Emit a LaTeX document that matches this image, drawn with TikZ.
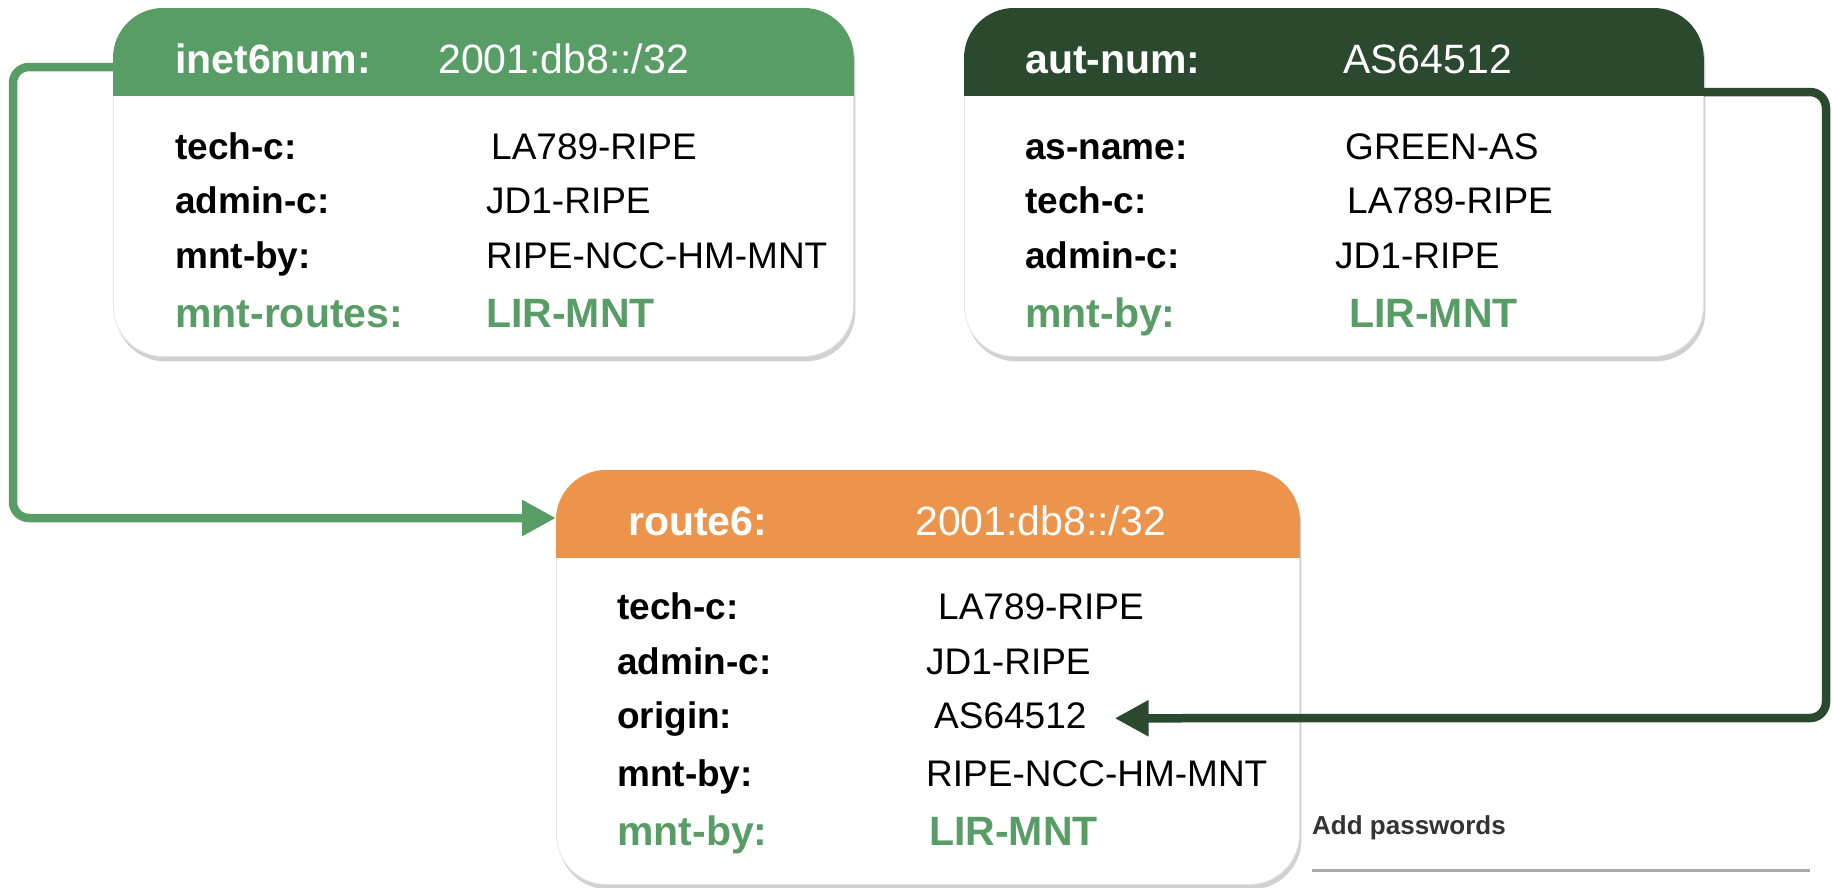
\documentclass[tikz,border=0pt]{standalone}
\usepackage{fontspec}
\setmainfont{Liberation Sans}
\usetikzlibrary{calc,shadows,arrows.meta}
\definecolor{hgreen}{RGB}{88,157,102}
\definecolor{hdark}{RGB}{43,73,46}
\definecolor{horange}{RGB}{236,148,76}
\definecolor{txtgray}{RGB}{51,51,51}
\definecolor{rulegray}{RGB}{170,170,170}
\tikzset{
  objbox/.style={draw=black!10, line width=0.8pt, fill=white, rounded corners=50pt, anchor=north west,
    drop shadow={opacity=0.3, shadow xshift=2pt, shadow yshift=-5pt, fill=black!60}},
  hdrlbl/.style={anchor=base west, inner sep=0pt, text=white, font=\fontsize{41}{45}\selectfont\bfseries},
  hdrval/.style={anchor=base west, inner sep=0pt, text=white, font=\fontsize{41}{45}\selectfont},
  lbl/.style={anchor=base west, inner sep=0pt, font=\fontsize{37}{41}\selectfont\bfseries},
  val/.style={anchor=base west, inner sep=0pt, font=\fontsize{37}{41}\selectfont},
  glbl/.style={anchor=base west, inner sep=0pt, text=hgreen, font=\fontsize{41}{45}\selectfont\bfseries},
  gval/.style={anchor=base west, inner sep=0pt, text=hgreen, font=\fontsize{41}{45}\selectfont\bfseries},
  conn/.style={line width=8.5pt, rounded corners=16pt, -{Triangle[length=34pt,width=34pt]}},
}
\begin{document}
\begin{tikzpicture}[x=1pt,y=-1pt]
\useasboundingbox (0,0) rectangle (1832,887);
% boxes
\node[objbox, minimum width=740pt, minimum height=348pt] (b1) at (113,8) {};
\node[objbox, minimum width=739pt, minimum height=348pt] (b2) at (964,8) {};
\node[objbox, minimum width=743pt, minimum height=414pt] (b3) at (556,470) {};
% headers
\begin{scope}
  \clip[rounded corners=50pt] (b1.north west) rectangle (b1.south east);
  \fill[hgreen] (b1.north west) rectangle ($(b1.north east)+(0,88)$);
\end{scope}
\begin{scope}
  \clip[rounded corners=50pt] (b2.north west) rectangle (b2.south east);
  \fill[hdark] (b2.north west) rectangle ($(b2.north east)+(0,88)$);
\end{scope}
\begin{scope}
  \clip[rounded corners=50pt] (b3.north west) rectangle (b3.south east);
  \fill[horange] (b3.north west) rectangle ($(b3.north east)+(0,88)$);
\end{scope}
% box 1 text
\node[hdrlbl] (h1l) at (175,73) {inet6num:};
\node[hdrval] (h1v) at (438,73) {2001:db8::/32};
\node[lbl] (r1a) at (175,159) {tech-c:};
\node[val] (r1av) at (491,159) {LA789-RIPE};
\node[lbl] (r1b) at (175,213) {admin-c:};
\node[val] (r1bv) at (486,213) {JD1-RIPE};
\node[lbl] (r1c) at (175,268) {mnt-by:};
\node[val] (r1cv) at (486,268) {RIPE-NCC-HM-MNT};
\node[glbl] (r1d) at (175,327) {mnt-routes:};
\node[gval] (r1dv) at (486,327) {LIR-MNT};
% box 2 text
\node[hdrlbl] (h2l) at (1025,73) {aut-num:};
\node[hdrval] (h2v) at (1343,73) {AS64512};
\node[lbl] (r2a) at (1025,159) {as-name:};
\node[val] (r2av) at (1345,159) {GREEN-AS};
\node[lbl] (r2b) at (1025,213) {tech-c:};
\node[val] (r2bv) at (1347,213) {LA789-RIPE};
\node[lbl] (r2c) at (1025,268) {admin-c:};
\node[val] (r2cv) at (1335,268) {JD1-RIPE};
\node[glbl] (r2d) at (1025,327) {mnt-by:};
\node[gval] (r2dv) at (1349,327) {LIR-MNT};
% box 3 text
\node[hdrlbl] (h3l) at (628,535) {route6:};
\node[hdrval] (h3v) at (915,535) {2001:db8::/32};
\node[lbl] (r3a) at (617,619) {tech-c:};
\node[val] (r3av) at (938,619) {LA789-RIPE};
\node[lbl] (r3b) at (617,674) {admin-c:};
\node[val] (r3bv) at (926,674) {JD1-RIPE};
\node[lbl] (r3c) at (617,728) {origin:};
\node[val] (r3cv) at (934,728) {AS64512};
\node[lbl] (r3d) at (617,786) {mnt-by:};
\node[val] (r3dv) at (926,786) {RIPE-NCC-HM-MNT};
\node[glbl] (r3e) at (617,845) {mnt-by:};
\node[gval] (r3ev) at (929,845) {LIR-MNT};
% connectors
\draw[conn, draw=hgreen] ($(b1.north west)+(0,59)$) -- (13,67) -- (13,518) -- ($(b3.north west)+(0,48)$);
\draw[conn, draw=hdark] ($(b2.north east)+(0,84)$) -- (1826,92) -- (1826,718) -- ([xshift=28pt,yshift=-3pt]r3cv.east);
% add passwords
\node[anchor=base west, inner sep=0pt, text=txtgray, font=\fontsize{26}{30}\selectfont\bfseries] (ap) at (1312,834) {Add passwords};
\draw[rulegray, line width=3pt] ($(ap.base west)+(0,36)$) -- ++(498,0);
\end{tikzpicture}
\end{document}
